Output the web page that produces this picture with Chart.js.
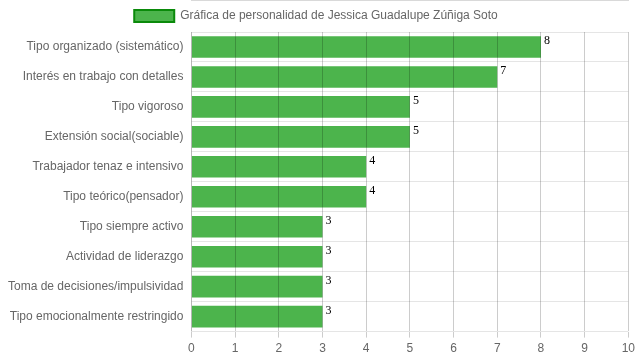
<!DOCTYPE html>
<html><head><meta charset="utf-8">
<script src="https://cdn.jsdelivr.net/npm/chart.js@4/dist/chart.umd.min.js"></script>
<style>html,body{margin:0;padding:0;background:#fff}#wrap{width:639px;height:360px}</style>
</head><body><div id="wrap"><canvas id="c"></canvas></div>
<script>
const categories = ["Tipo organizado (sistemático)","Interés en trabajo con detalles","Tipo vigoroso","Extensión social(sociable)","Trabajador tenaz e intensivo","Tipo teórico(pensador)","Tipo siempre activo","Actividad de liderazgo","Toma de decisiones/impulsividad","Tipo emocionalmente restringido"];
const values = [8,7,5,5,4,4,3,3,3,3];
const seriesLabel = "Gráfica de personalidad de Jessica Guadalupe Zúñiga Soto";
const xTicks = [0,1,2,3,4,5,6,7,8,9,10];

const valueLabels = {
  id:'valueLabels',
  afterDatasetsDraw(chart){
    const ctx = chart.ctx;
    const meta = chart.getDatasetMeta(0);
    ctx.save();
    ctx.font = '12px "Liberation Serif", "Times New Roman", serif';
    ctx.fillStyle = '#000';
    ctx.textAlign = 'left';
    ctx.textBaseline = 'top';
    meta.data.forEach((bar,i)=>{
      const p = bar.getProps(['x','y','height'],true);
      ctx.fillText(String(values[i]), p.x + 3, p.y - p.height/2 - 1);
    });
    ctx.restore();
  }
};

Chart.defaults.font.family = '"Liberation Sans", Arial, Helvetica, sans-serif';
Chart.defaults.font.size = 12;
Chart.defaults.color = '#666';

new Chart(document.getElementById('c'), {
  type:'bar',
  data:{labels:categories, datasets:[{label:seriesLabel, data:values, backgroundColor:'rgba(76,180,76,1)', borderWidth:0, barPercentage:0.9, categoryPercentage:0.8}]},
  options:{
    indexAxis:'y', responsive:true, maintainAspectRatio:false, animation:false,
    layout:{padding:{left:0,right:7,top:0,bottom:0}},
    plugins:{
      legend:{position:'top', labels:{boxWidth:40, boxHeight:12, padding:10,
        generateLabels(chart){return [{text:seriesLabel, fillStyle:'rgba(76,180,76,1)', strokeStyle:'#0a8a0a', lineWidth:2, datasetIndex:0, fontColor:'#666'}];}}},
      tooltip:{enabled:false}
    },
    scales:{
      x:{min:0,max:10, ticks:{stepSize:1, padding:4}, grid:{color:'rgba(0,0,0,0.2)', z:1, tickLength:6}, border:{color:'rgba(0,0,0,0.3)'}},
      y:{ticks:{padding:8}, grid:{color:'rgba(0,0,0,0.1)', offset:true, tickLength:0}, border:{color:'rgba(0,0,0,0.1)'}}
    }
  },
  plugins:[valueLabels]
});
</script></body></html>
